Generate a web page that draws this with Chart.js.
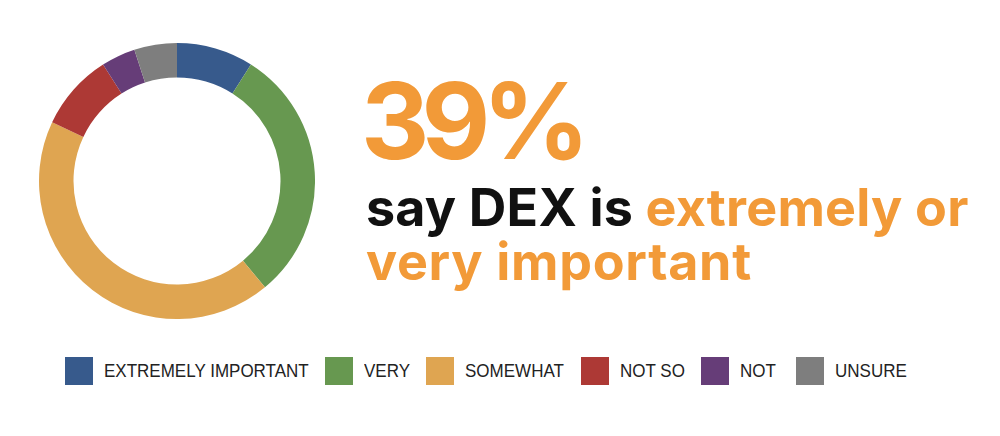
<!DOCTYPE html>
<html>
<head>
<meta charset="utf-8">
<script src="https://cdn.jsdelivr.net/npm/chart.js@4.4.0/dist/chart.umd.min.js"></script>
<style>
  html, body { margin: 0; padding: 0; background: #fff; }
  #wrap { position: relative; width: 1000px; height: 436px; overflow: hidden; }
  #donutBox { position: absolute; left: 39px; top: 43px; width: 276px; height: 276px; }
  .head { position: absolute; font-family: Inter, "Noto Sans", sans-serif; font-weight: 700; white-space: nowrap; }
  #big { left: 361px; top: 79px; font-size: 106px; color: #f29a38; letter-spacing: -8px; line-height: 0.8; }
  #lines { left: 366px; top: 181px; font-size: 52px; color: #f29a38; line-height: 54px; }
  .dark { color: #111; }
  .l1 { letter-spacing: 0.2px; }
  .l2 { letter-spacing: 0.7px; }
  #legend { position: absolute; left: 0; top: 357px; width: 1000px; height: 30px; }
  .lg-box { position: absolute; top: 0; width: 28px; height: 28px; }
  .lg-txt { position: absolute; top: 4px; font-family: "Liberation Sans", sans-serif; font-size: 19px; color: #222; white-space: nowrap; line-height: 20px; transform: scaleX(0.895); transform-origin: 0 50%; }
</style>
</head>
<body>
<div id="wrap">
  <div id="donutBox"><canvas id="donut"></canvas></div>
  <div class="head" id="big">39%</div>
  <div class="head" id="lines"><span class="l1"><span class="dark">say DEX is</span> extremely or</span><br><span class="l2">very important</span></div>
  <div id="legend"></div>
</div>
<script>
// Datos del gráfico de importancia
var labels = ['EXTREMELY IMPORTANT', 'VERY', 'SOMEWHAT', 'NOT SO', 'NOT', 'UNSURE'];
var values = [9, 30, 43, 9, 4, 5];
var colors = ['#375a8c', '#679850', '#dfa551', '#ad3935', '#663d78', '#7e7e7e'];

// posiciones x de las cajas de la leyenda
var legendBoxX = [65, 325, 426, 581, 701, 796];

var donut = new Chart(document.getElementById("donut"), {
  type: 'doughnut',
  data: {
    labels: labels,
    datasets: [{
      data: values,
      backgroundColor: colors,
      borderWidth: 0,
      hoverOffset: 0
    }]
  },
  options: {
    responsive: true,
    maintainAspectRatio: false,
    animation: false,
    cutout: '75%',
    layout: { padding: 0 },
    plugins: {
      legend: { display: false },
      tooltip: { enabled: false }
    }
  }
});

// Leyenda hecha a mano
var legend = document.getElementById("legend");
labels.forEach(function (lab, i) {
  var box = document.createElement("div");
  box.className = "lg-box";
  box.style.left = legendBoxX[i] + "px";
  box.style.background = colors[i];
  legend.appendChild(box);
  var txt = document.createElement("div");
  txt.className = "lg-txt";
  txt.style.left = (legendBoxX[i] + 39) + "px";
  txt.textContent = lab;
  legend.appendChild(txt);
});
</script>
</body>
</html>
